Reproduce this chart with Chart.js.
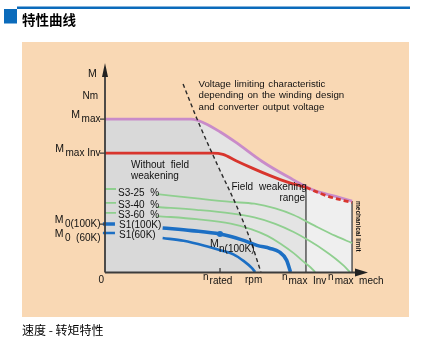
<!DOCTYPE html>
<html>
<head>
<meta charset="utf-8">
<script src="https://cdn.jsdelivr.net/npm/chart.js@4.4.1/dist/chart.umd.min.js"></script>
<style>
  html, body { margin: 0; padding: 0; background: #fff; }
  canvas { display: block; }
</style>
</head>
<body>
<canvas id="chart" width="433" height="345"></canvas>
<script>
// speed and torque both in % of the axis length
const envX = [0, 33, 38, 44, 50, 60, 70, 80, 88, 94.3];
const envY = [74.6, 74.6, 72.6, 68.3, 63.2, 53.9, 46.3, 39.7, 36.9, 34.6];
const invX = [0, 41, 45, 50, 56, 63, 70, 76.7];
const invY = [58, 58, 57.4, 54.3, 50.8, 47.0, 43.7, 41.3];
const invDashX = [76.7, 85, 94.3];
const invDashY = [41.3, 37.0, 33.9];
const s325X = [0, 4.2, null, 20, 35, 48, 57, 65, 72, 80, 88, 94.3];
const s325Y = [40.5, 40.5, null, 38, 35.9, 34.2, 33.3, 31, 27.8, 22.6, 17.6, 14.1];
const s340X = [0, 4.2, null, 20, 35, 48, 57, 65, 72, 78, 84, 88, 91, 93.5];
const s340Y = [33.7, 33.7, null, 31.7, 30.3, 28.6, 26.6, 23.5, 19.5, 15.2, 10.3, 6.5, 3.2, 0];
const s360X = [0, 4.2, null, 20, 35, 48, 56, 62, 67, 72, 76, 78.5, 80.2];
const s360Y = [28.8, 28.8, null, 27.3, 25.8, 23.6, 20.8, 17.6, 13.8, 9.2, 4.8, 2.2, 0];
const s1100X = [-0.8, 3.8, null, 22, 33, 43.9, 52, 58, 63, 66.5, 69.3, 70.8];
const s1100Y = [23.4, 23.4, null, 21.5, 20.2, 18.5, 15.8, 13.0, 11.5, 9.8, 5.8, 0];
const s160X = [-0.8, 3.8, null, 22, 30, 38, 44, 49, 53, 56, 57.3];
const s160Y = [19.0, 19.0, null, 16.6, 15.2, 12.8, 10.6, 8.6, 5.3, 2, 0];
const voltX = [29.8, 35.3, 43, 50.4, 55.5, 59.5];
const voltY = [91.7, 74.1, 52, 31.7, 15.5, 0];

const nRated = 43.9, mRated = 18.5;
const nMaxInv = 76.7, nMaxMech = 94.3;
const torqueTicks = [74.6, 58, 23.4, 19.0];
const torqueLabels = [['M', 'max'], ['M', 'max Inv'], ['M', '0(100K)'], ['M', '0  (60K)']];
const speedTicks = [nRated, nMaxInv, nMaxMech];
const speedLabels = [['n', 'rated'], ['n', 'max  Inv'], ['n', 'max  mech']];
const seriesNames = ['S3-25  %', 'S3-40  %', 'S3-60  %', 'S1(100K)', 'S1(60K)'];

const purple = '#c98bc9', red = '#d8352d', green = '#8fcf8f', blue = '#1c6fc4';
const FONT = '"Liberation Sans", Arial, sans-serif';

const line = (xs, ys, color, width, extra) => Object.assign({
  data: xs.map((x, i) => ({ x, y: ys[i] })),
  borderColor: color,
  borderWidth: width,
  pointRadius: 0,
  fill: false,
  clip: false,
  cubicInterpolationMode: 'monotone'
}, extra || {});

function subText(ctx, main, sub, x, y, align, mainPx, subPx, dy, gap) {
  ctx.font = mainPx + 'px ' + FONT;
  const w1 = ctx.measureText(main).width;
  ctx.font = subPx + 'px ' + FONT;
  const w2 = ctx.measureText(sub).width;
  const total = w1 + gap + w2;
  const x0 = align === 'right' ? x - total : align === 'center' ? x - total / 2 : x;
  ctx.textAlign = 'left';
  ctx.font = mainPx + 'px ' + FONT;
  ctx.fillText(main, x0, y);
  ctx.font = subPx + 'px ' + FONT;
  ctx.fillText(sub, x0 + w1 + gap, y + dy);
}

const page = {
  id: 'page',
  beforeDraw(chart) {
    const ctx = chart.ctx;
    ctx.save();
    ctx.fillStyle = '#fff';
    ctx.fillRect(0, 0, chart.width, chart.height);
    ctx.fillStyle = '#0b6bbb';
    ctx.fillRect(17, 6.5, 393, 2.5);
    ctx.fillRect(4, 9, 13, 14.5);
    ctx.fillStyle = '#000';
    ctx.font = 'bold 13.5px "Noto Sans CJK SC"';
    ctx.textBaseline = 'alphabetic';
    ctx.fillText('特性曲线', 22, 24.5);
    ctx.fillStyle = '#f9d8b4';
    ctx.fillRect(22, 42, 387, 275);
    ctx.fillStyle = '#000';
    ctx.font = '12px "Noto Sans CJK SC"';
    ctx.fillText('速度 - 转矩特性', 22, 334.5);
    ctx.restore();
  },
  beforeDatasetsDraw(chart) {
    const { ctx, chartArea } = chart;
    const { x, y } = chart.scales;
    const env = chart.getDatasetMeta(6).dataset;
    const volt = chart.getDatasetMeta(0).dataset;
    env.updateControlPoints(chartArea, 'x');
    volt.updateControlPoints(chartArea, 'x');
    const x0 = x.getPixelForValue(0), yb = y.getPixelForValue(0);
    const envPath = () => {
      ctx.beginPath();
      env.path(ctx);
      ctx.lineTo(x.getPixelForValue(envX[envX.length - 1]), yb);
      ctx.lineTo(x0, yb);
      ctx.closePath();
    };
    ctx.save();
    envPath();
    ctx.fillStyle = '#efefef';
    ctx.fill();
    ctx.beginPath();
    ctx.rect(x0, 0, x.getPixelForValue(nMaxInv) - x0, yb);
    ctx.clip();
    envPath();
    ctx.fillStyle = '#e4e4e4';
    ctx.fill();
    ctx.beginPath();
    volt.path(ctx);
    ctx.lineTo(x0, yb);
    ctx.lineTo(x0, 0);
    ctx.closePath();
    ctx.clip();
    envPath();
    ctx.fillStyle = '#d9d9d9';
    ctx.fill();
    ctx.restore();
  },
  afterDraw(chart) {
    const ctx = chart.ctx;
    const { x, y } = chart.scales;
    const x0 = x.getPixelForValue(0), yb = y.getPixelForValue(0);
    ctx.save();
    // axes with arrows
    ctx.strokeStyle = '#3c3c3c';
    ctx.fillStyle = '#222';
    ctx.lineWidth = 1.8;
    ctx.beginPath();
    ctx.moveTo(x0, yb + 0.5);
    ctx.lineTo(x0, 72);
    ctx.moveTo(x0, yb + 0.5);
    ctx.lineTo(358, yb + 0.5);
    ctx.stroke();
    ctx.beginPath();
    ctx.moveTo(x0, 63);
    ctx.lineTo(x0 + 3, 77);
    ctx.lineTo(x0 - 3, 77);
    ctx.closePath();
    ctx.fill();
    ctx.beginPath();
    ctx.moveTo(368, yb + 0.5);
    ctx.lineTo(355, yb - 3.5);
    ctx.lineTo(355, yb + 4.5);
    ctx.closePath();
    ctx.fill();
    // ticks
    ctx.lineWidth = 1.3;
    ctx.beginPath();
    torqueTicks.slice(0, 3).forEach(v => {
      const py = y.getPixelForValue(v);
      ctx.moveTo(x0 - 5, py);
      ctx.lineTo(x0, py);
    });
    const pr = x.getPixelForValue(nRated);
    ctx.moveTo(pr, yb - 4);
    ctx.lineTo(pr, yb);
    ctx.stroke();

    ctx.fillStyle = '#111';
    ctx.textBaseline = 'alphabetic';
    // y axis title
    ctx.font = '10.5px ' + FONT;
    ctx.fillText('M', 88, 77);
    ctx.font = '10px ' + FONT;
    ctx.fillText('Nm', 82.5, 99);
    // torque tick labels
    torqueLabels.forEach((lab, i) => {
      const py = y.getPixelForValue(torqueTicks[i]);
      const dy = i === 3 ? 4 : -0.7;
      subText(ctx, lab[0], lab[1], x0 - 4.5, py + dy, 'right', 10.5, 10, 4, 1.5);
    });
    // speed tick labels, started left of each tick
    const speedShift = [-17, -24, -24];
    speedLabels.forEach((lab, i) => {
      const px = x.getPixelForValue(speedTicks[i]);
      subText(ctx, lab[0], lab[1], px + speedShift[i], 280, 'left', 10, 10, 4, 1);
    });
    ctx.font = '10px ' + FONT;
    ctx.fillText('rpm', 245, 283);
    ctx.fillText('0', 98.5, 283);
    // rated point label
    subText(ctx, 'M', 'n(100K)', 210, 247.3, 'left', 10.5, 10, 4.7, 0.3);
    // series labels
    ctx.font = '10px ' + FONT;
    const labelBase = [196, 207.5, 217.5, 228, 238.3];
    seriesNames.forEach((s, i) => ctx.fillText(s, i < 3 ? 118 : 119, labelBase[i]));
    // annotations
    ctx.font = '9.7px ' + FONT;
    ctx.wordSpacing = '1px';
    ctx.fillText('Voltage limiting characteristic', 198.5, 86.5);
    ctx.fillText('depending on the winding design', 198.5, 98.3);
    ctx.fillText('and converter output voltage', 198.5, 110);
    ctx.font = '10px ' + FONT;
    ctx.wordSpacing = '3px';
    ctx.fillText('Without field', 131, 168);
    ctx.fillText('weakening', 131, 179);
    ctx.fillText('Field weakening', 231.5, 190);
    ctx.textAlign = 'right';
    ctx.fillText('range', 305, 201);
    ctx.wordSpacing = '0px';
    // small rotated note beside n max mech
    ctx.translate(x.getPixelForValue(nMaxMech) + 3.5, 201);
    ctx.rotate(Math.PI / 2);
    ctx.textAlign = 'left';
    ctx.font = 'bold 6.5px ' + FONT;
    ctx.fillText('mechanical limit', 0, 0);
    ctx.restore();
  }
};

new Chart(document.getElementById('chart'), {
  type: 'line',
  data: {
    datasets: [
      line(voltX, voltY, '#2a2a2a', 1.4, { borderDash: [4, 3] }),
      { data: [{ x: nRated, y: mRated }], showLine: false, pointRadius: 3, pointBackgroundColor: blue, pointBorderWidth: 0, clip: false },
      line(s1100X, s1100Y, blue, 3.6),
      line(s160X, s160Y, blue, 2.6),
      line(invX, invY, red, 2.8),
      line(invDashX, invDashY, red, 2.8, { borderDash: [5, 3] }),
      line(envX, envY, purple, 2.8),
      line(s325X, s325Y, green, 1.8),
      line(s340X, s340Y, green, 1.8),
      line(s360X, s360Y, green, 1.8),
      line([nMaxInv, nMaxInv], [0, invY[invY.length - 1]], '#555', 1.5, { cubicInterpolationMode: 'default' }),
      line([nMaxMech, nMaxMech], [0, envY[envY.length - 1]], '#555', 1.5, { cubicInterpolationMode: 'default' })
    ]
  },
  options: {
    responsive: false,
    animation: false,
    devicePixelRatio: 1,
    layout: { padding: { left: 105, right: 66, top: 67, bottom: 73 } },
    scales: {
      x: { type: 'linear', min: 0, max: 100, display: false },
      y: { type: 'linear', min: 0, max: 100, display: false }
    },
    plugins: { legend: { display: false }, tooltip: { enabled: false } },
    events: []
  },
  plugins: [page]
});
</script>
</body>
</html>
